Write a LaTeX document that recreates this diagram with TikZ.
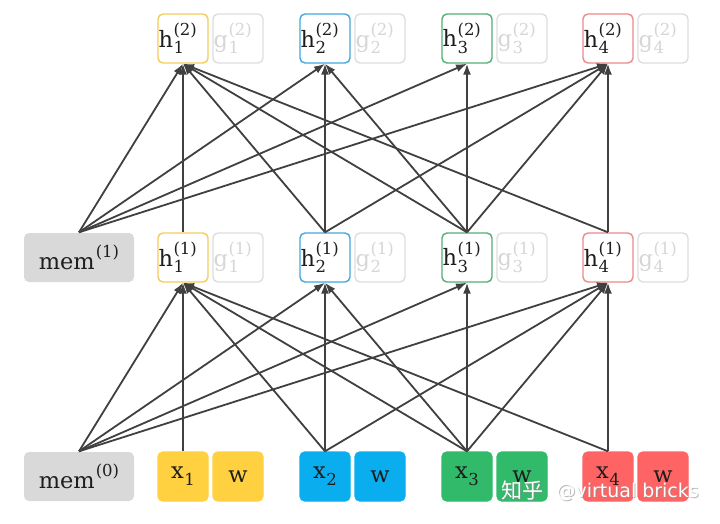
\documentclass[tikz,border=0pt]{standalone}
\usepackage{fontspec}
\setmainfont{DejaVu Serif}
\newfontfamily\cjkfont{Noto Sans CJK SC}
\newfontfamily\wmfont{DejaVu Sans}
\usetikzlibrary{arrows.meta}

\definecolor{linegray}{HTML}{404040}
\definecolor{txt}{HTML}{1E1E1E}
\definecolor{memgray}{HTML}{D9D9D9}
\definecolor{gline}{HTML}{DEDEDE}
\definecolor{gtxt}{HTML}{D6D6D6}
\definecolor{cyel}{HTML}{FFD040}
\definecolor{cblu}{HTML}{0AAEEF}
\definecolor{cgrn}{HTML}{30BA6A}
\definecolor{cred}{HTML}{FF6464}
\definecolor{byel}{HTML}{F6CC58}
\definecolor{bblu}{HTML}{42A8DC}
\definecolor{bgrn}{HTML}{55AE76}
\definecolor{bred}{HTML}{EE8A8A}

% small script size for indices
\newcommand{\idxsz}{\fontsize{16.5}{17}\selectfont}
% letter with subscript #2 and parenthesised superscript #3
\newcommand{\hsym}[3]{#1\kern0.5pt\rlap{\raisebox{0.5em}{\idxsz(#3)}}\raisebox{-0.3em}{\idxsz #2}\phantom{\idxsz(#3)}}
\newcommand{\xsym}[2]{#1\kern0.5pt\raisebox{-0.3em}{\idxsz #2}}
\newcommand{\memsym}[1]{mem\kern1pt\raisebox{0.5em}{\idxsz(#1)}}

\tikzset{
  cell/.style={rounded corners=5pt, minimum width=50pt, minimum height=49pt,
    inner sep=0pt, line width=1.4pt, text=txt, font=\fontsize{22.5}{24}\selectfont},
  hcell/.style={cell, fill=white, draw=#1},
  gcell/.style={cell, fill=white, draw=gline, text=gtxt},
  incell/.style={cell, fill=#1, draw=#1},
  memcell/.style={cell, fill=memgray, minimum width=110pt},
  conn/.style={draw=linegray, line width=1.8pt, -{Latex[length=11pt,width=8pt]}},
}

\begin{document}
\begin{tikzpicture}[x=1pt,y=-1pt]
\useasboundingbox[fill=white] (0,0) rectangle (720,523);

% memory blocks
\node[memcell] (m0) at (79,476.5) {\memsym{0}};
\node[memcell] (m1) at (79,257.5) {\memsym{1}};

% input row
\node[incell=cyel] (x1) at (183,476.5) {\xsym{x}{1}};
\node[incell=cyel] (w1) at (238,476.5) {w};
\node[incell=cblu] (x2) at (325,476.5) {\xsym{x}{2}};
\node[incell=cblu] (w2) at (380,476.5) {w};
\node[incell=cgrn] (x3) at (467,476.5) {\xsym{x}{3}};
\node[incell=cgrn] (w3) at (522,476.5) {w};
\node[incell=cred] (x4) at (608,476.5) {\xsym{x}{4}};
\node[incell=cred] (w4) at (663,476.5) {w};

% first layer
\node[hcell=byel] (a1) at (183,257.5) {\hsym{h}{1}{1}};
\node[gcell]      (b1) at (238,257.5) {\hsym{g}{1}{1}};
\node[hcell=bblu] (a2) at (325,257.5) {\hsym{h}{2}{1}};
\node[gcell]      (b2) at (380,257.5) {\hsym{g}{2}{1}};
\node[hcell=bgrn] (a3) at (467,257.5) {\hsym{h}{3}{1}};
\node[gcell]      (b3) at (522,257.5) {\hsym{g}{3}{1}};
\node[hcell=bred] (a4) at (608,257.5) {\hsym{h}{4}{1}};
\node[gcell]      (b4) at (663,257.5) {\hsym{g}{4}{1}};

% second layer
\node[hcell=byel] (c1) at (183,38.5) {\hsym{h}{1}{2}};
\node[gcell]      (d1) at (238,38.5) {\hsym{g}{1}{2}};
\node[hcell=bblu] (c2) at (325,38.5) {\hsym{h}{2}{2}};
\node[gcell]      (d2) at (380,38.5) {\hsym{g}{2}{2}};
\node[hcell=bgrn] (c3) at (467,38.5) {\hsym{h}{3}{2}};
\node[gcell]      (d3) at (522,38.5) {\hsym{g}{3}{2}};
\node[hcell=bred] (c4) at (608,38.5) {\hsym{h}{4}{2}};
\node[gcell]      (d4) at (663,38.5) {\hsym{g}{4}{2}};

% memory feeds every position
\foreach \t in {1,...,4} {
  \draw[conn] (m0.north) -- (a\t.south);
  \draw[conn] (m1.north) -- (c\t.south);
}
% attention pattern for factorisation order 3 -> 2 -> 4 -> 1
\foreach \t/\s in {1/1,1/2,1/3,1/4,2/2,2/3,3/3,4/2,4/3,4/4} {
  \draw[conn] (x\s.north) -- (a\t.south);
  \draw[conn] (a\s.north) -- (c\t.south);
}

% watermark
\node[text=black!45, opacity=0.6, font=\cjkfont\fontsize{21}{22}\selectfont] (wmsa) at (523.5,491.5) {知乎};
\node[text=white, font=\cjkfont\fontsize{21}{22}\selectfont] (wma) at (522.5,490.5) {知乎};
\node[text=black!45, opacity=0.6, font=\wmfont\fontsize{19}{22}\selectfont, anchor=west] (wmsb) at (554,492.5) {@virtual bricks};
\node[text=white, font=\wmfont\fontsize{19}{22}\selectfont, anchor=west] (wmb) at (553,491.5) {@virtual bricks};
\end{tikzpicture}
\end{document}
